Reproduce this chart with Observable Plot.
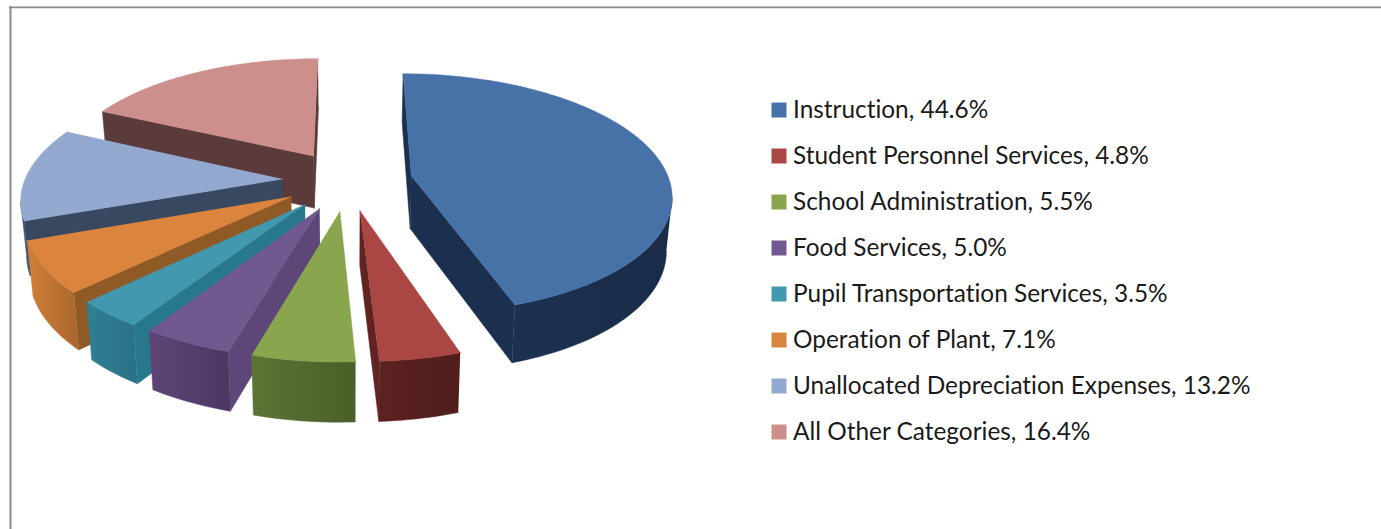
<!DOCTYPE html>
<html><head><meta charset="utf-8">
<script src="https://cdn.jsdelivr.net/npm/d3@7"></script>
<script src="https://cdn.jsdelivr.net/npm/@observablehq/plot@0.6"></script>
<style>html,body{margin:0;padding:0;background:#fff}svg{display:block}</style>
</head><body><div id="chart"></div>
<script>
const categories=["Instruction","Student Personnel Services","School Administration","Food Services","Pupil Transportation Services","Operation of Plant","Unallocated Depreciation Expenses","All Other Categories"];
const shares=[44.6,4.8,5.5,5.0,3.5,7.1,13.2,16.4];
const topColors=["#4672a8","#aa4644","#89a54e","#71588f","#4198af","#db843d","#93a9cf","#cd8f8c"];
const cutColors=["#1b2f4e","#5f2322","#4e6229","#5c4778","#28788c","#8f5a26","#374860","#5a3a3a"];
const wallFrom=["#1c3152","#5c2220","#5c7434","#5e4577","#307f94","#d08038","#3e5170","#6b4544"];
const wallTo=["#192b47","#4f1d1c","#4b5f28","#4c3762","#297186","#a9662c","#3e5170","#6b4544"];
const drawOrder=[7,6,5,4,3,0,2,1];

// view of the tilted disc
const W=1381,Hh=529;
const vx=347,cy=180,H=802,D=1748,R=258,lift=53,explode=65,converge=0.018;
const total=d3.sum(shares);
const rad=d=>d*Math.PI/180;
const project=(X,Z,h)=>{const s=D/(D+Z);return [vx+X*s*(1-converge*h/lift),cy-H+H*s+h*(1+0.6*(s-1))];};
// small view correction of the drawn disc, in degrees of its rim
const warpShift=d3.scaleLinear([0,160,178,198,216,228,254,301,360],[0,1.4,-0.8,-1.4,-2.6,-2.2,-3.3,-5.8,0]);
const warp=a=>a+warpShift(a);

let acc=0;
const slices=shares.map((v,i)=>{const a0=acc/total*360;acc+=v;const a1=acc/total*360;return {i,a0,a1};});
const faces=[];
let fid=0;
function face(pts,fill){const id=fid++;pts.forEach(p=>faces.push({x:p[0],y:p[1],id,fill}));}
for(const k of drawOrder){
  const {i,a0,a1}=slices[k];
  const b0=warp(a0),b1=warp(a1);
  const m=rad((b0+b1)/2),ex=explode*Math.sin(m),ez=explode*Math.cos(m);
  const pt=(a,r,h)=>project(ex+r*Math.sin(rad(a)),ez+r*Math.cos(rad(a)),h);
  const n=Math.ceil((b1-b0)/1.5);
  const arc=d3.range(n+1).map(j=>b0+(b1-b0)*j/n);
  const apexT=pt(0,0,0),apexB=pt(0,0,lift);
  const aT=pt(b0,R,0),aB=pt(b0,R,lift),bT=pt(b1,R,0),bB=pt(b1,R,lift);
  if(aT[0]<apexT[0]) face([apexT,aT,aB,apexB],cutColors[i]);
  if(apexT[0]<bT[0]) face([bT,apexT,apexB,bB],cutColors[i]);
  // visible part of the rim: where the clockwise arc travels leftward
  let run=[];
  const flush=()=>{if(run.length>1){face([...run.map(a=>pt(a,R,0)),...run.slice().reverse().map(a=>pt(a,R,lift))],`url(#wall${i})`);}run=[];};
  for(let j=0;j<arc.length-1;j++){
    const p=pt(arc[j],R,0),q=pt(arc[j+1],R,0);
    if(q[0]<p[0]){if(!run.length)run.push(arc[j]);run.push(arc[j+1]);}else flush();
  }
  flush();
  face([apexT,...arc.map(a=>pt(a,R,0))],topColors[i]);
}
const legend=categories.map((c,i)=>({label:`${c}, ${shares[i].toFixed(1)}%`,color:topColors[i],y:109.5+46*i}));

const plot=Plot.plot({
  width:W,height:Hh,margin:0,
  x:{domain:[0,W],range:[0,W],axis:null},
  y:{domain:[0,Hh],range:[0,Hh],axis:null},
  color:{type:"identity"},
  marks:[
    Plot.ruleY([6.8],{x1:9,x2:W,stroke:"#8a8a8a",strokeWidth:1.7}),
    Plot.ruleX([10],{y1:6,y2:Hh,stroke:"#8a8a8a",strokeWidth:2}),
    Plot.line(faces,{x:"x",y:"y",z:"id",fill:"fill",stroke:"fill",strokeWidth:0.5}),
    Plot.dot(legend,{x:()=>778.5,y:"y",symbol:"square",r:8.46,fill:"color",stroke:"none"}),
    Plot.text(legend,{x:()=>792.5,y:"y",text:"label",textAnchor:"start",fontSize:24.4,fontFamily:"Lato",fill:"#1a1a1a"})
  ]
});
plot.querySelectorAll("text").forEach(t=>t.style.fontVariantLigatures="none");
const defs=categories.map((c,i)=>`<linearGradient id="wall${i}" x1="0" x2="1" y1="0" y2="0"><stop offset="0" stop-color="${wallFrom[i]}"/><stop offset="1" stop-color="${wallTo[i]}"/></linearGradient>`).join("");
plot.insertAdjacentHTML("afterbegin",`<defs>${defs}</defs>`);
document.getElementById("chart").appendChild(plot);
</script></body></html>
